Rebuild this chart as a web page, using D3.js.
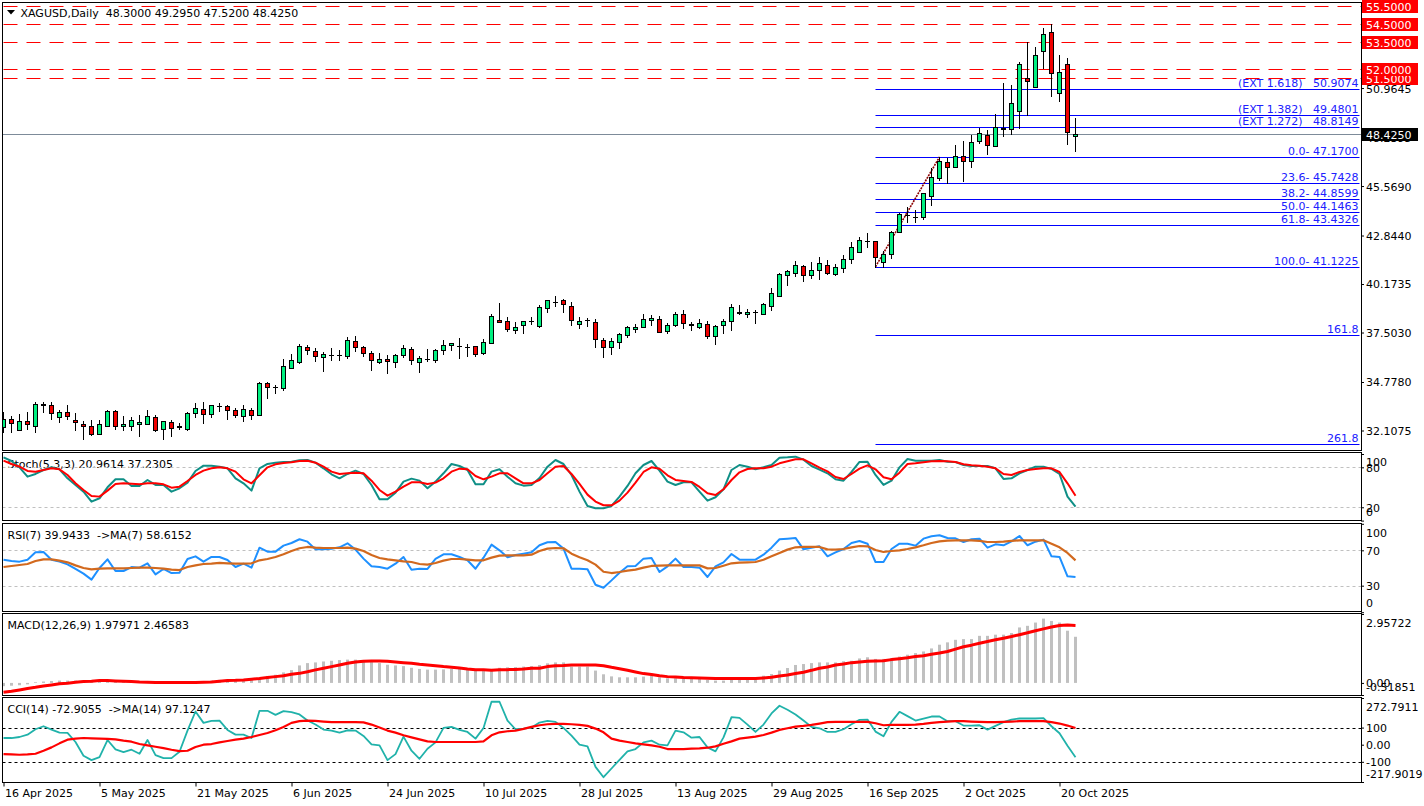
<!DOCTYPE html>
<html><head><meta charset="utf-8">
<script src="https://cdn.jsdelivr.net/npm/d3@7"></script>
<style>
html,body{margin:0;padding:0;background:#fff;overflow:hidden}
svg{display:block}
text{font-family:"DejaVu Sans",sans-serif;font-size:11px;white-space:pre}
</style></head><body>
<svg id="chart" width="1424" height="806"></svg>
<script>
// ---------------- DATA ----------------
const headerText = "XAGUSD,Daily  48.3000 49.2950 47.5200 48.4250";
const dates = [
"2025-04-16","2025-04-17","2025-04-21","2025-04-22","2025-04-23","2025-04-24","2025-04-25","2025-04-28","2025-04-29","2025-04-30",
"2025-05-01","2025-05-02","2025-05-05","2025-05-06","2025-05-07","2025-05-08","2025-05-09","2025-05-12","2025-05-13","2025-05-14",
"2025-05-15","2025-05-16","2025-05-19","2025-05-20","2025-05-21","2025-05-22","2025-05-23","2025-05-26","2025-05-27","2025-05-28",
"2025-05-29","2025-05-30","2025-06-02","2025-06-03","2025-06-04","2025-06-05","2025-06-06","2025-06-09","2025-06-10","2025-06-11",
"2025-06-12","2025-06-13","2025-06-16","2025-06-17","2025-06-18","2025-06-19","2025-06-20","2025-06-23","2025-06-24","2025-06-25",
"2025-06-26","2025-06-27","2025-06-30","2025-07-01","2025-07-02","2025-07-03","2025-07-04","2025-07-07","2025-07-08","2025-07-09",
"2025-07-10","2025-07-11","2025-07-14","2025-07-15","2025-07-16","2025-07-17","2025-07-18","2025-07-21","2025-07-22","2025-07-23",
"2025-07-24","2025-07-25","2025-07-28","2025-07-29","2025-07-30","2025-07-31","2025-08-01","2025-08-04","2025-08-05","2025-08-06",
"2025-08-07","2025-08-08","2025-08-11","2025-08-12","2025-08-13","2025-08-14","2025-08-15","2025-08-18","2025-08-19","2025-08-20",
"2025-08-21","2025-08-22","2025-08-25","2025-08-26","2025-08-27","2025-08-28","2025-08-29","2025-09-01","2025-09-02","2025-09-03",
"2025-09-04","2025-09-05","2025-09-08","2025-09-09","2025-09-10","2025-09-11","2025-09-12","2025-09-15","2025-09-16","2025-09-17",
"2025-09-18","2025-09-19","2025-09-22","2025-09-23","2025-09-24","2025-09-25","2025-09-26","2025-09-29","2025-09-30","2025-10-01",
"2025-10-02","2025-10-03","2025-10-06","2025-10-07","2025-10-08","2025-10-09","2025-10-10","2025-10-13","2025-10-14","2025-10-15",
"2025-10-16","2025-10-17","2025-10-20","2025-10-21","2025-10-22"];

const open = [
32.29,32.73,32.12,32.63,32.37,33.57,33.50,32.84,33.13,32.69,
32.45,32.34,31.90,32.37,33.20,32.34,32.37,32.45,32.45,32.84,
32.18,32.56,32.32,32.21,33.06,33.28,33.00,33.46,33.44,33.22,
32.89,33.22,32.95,34.71,34.52,34.45,35.57,35.90,36.71,36.47,
36.14,36.27,36.27,36.20,37.02,36.69,36.36,35.87,36.03,35.87,
36.25,36.58,35.87,36.06,35.98,36.53,36.82,36.75,36.72,36.75,
36.36,36.95,38.18,38.12,37.66,37.90,38.16,37.86,38.84,39.20,
39.30,38.95,37.96,38.18,38.07,37.08,36.69,36.97,37.35,37.68,
37.79,38.18,38.23,37.57,37.90,38.51,37.94,37.83,37.96,37.30,
37.90,38.12,38.60,38.52,38.62,38.51,38.95,39.50,40.66,40.80,
41.17,40.66,40.93,41.22,40.74,41.07,41.54,41.96,42.54,42.53,
41.40,41.81,43.06,43.98,43.88,43.85,45.04,46.03,46.88,46.60,
47.24,46.95,48.05,48.38,47.78,48.73,48.70,49.70,51.50,51.01,
52.99,54.04,50.68,52.27,48.30];
const high = [
33.14,32.91,33.02,33.13,33.68,33.68,33.68,33.24,33.51,33.06,
32.63,32.69,32.69,33.24,33.24,32.91,32.84,32.95,33.24,32.95,
32.63,32.69,32.51,33.13,33.61,33.68,33.50,33.61,33.51,33.37,
33.51,33.37,34.80,34.80,34.62,36.05,36.32,36.87,36.82,36.64,
36.43,36.64,36.54,37.26,37.31,36.76,36.50,36.38,36.27,36.32,
36.82,36.69,36.20,36.58,36.58,37.09,36.93,37.19,36.86,36.78,
37.13,38.52,39.13,38.34,38.07,38.12,38.38,39.00,39.30,39.51,
39.33,39.19,38.34,38.30,38.23,37.22,37.19,37.48,37.85,37.96,
38.52,38.45,38.41,38.01,38.64,38.73,38.07,38.23,38.12,37.90,
38.23,39.07,39.02,38.78,38.73,39.11,39.94,40.80,40.95,41.44,
41.22,41.39,41.66,41.48,41.26,41.77,42.47,42.77,42.97,42.53,
41.99,43.09,44.07,44.43,44.25,45.17,46.58,47.17,47.13,47.83,
48.05,48.38,48.75,48.66,49.54,51.23,51.13,52.42,53.52,53.21,
54.26,54.49,52.79,52.60,49.295];
const low = [
32.03,32.04,32.11,32.21,32.04,33.14,32.73,32.59,32.73,32.14,
31.63,31.86,31.90,32.37,32.21,32.14,32.14,31.82,32.45,32.10,
31.63,31.82,32.18,32.14,32.87,32.54,32.87,33.18,32.73,32.87,
32.65,32.73,32.95,33.92,34.16,34.34,35.57,35.84,36.31,35.95,
35.40,35.98,35.99,36.10,36.49,36.20,35.46,35.81,35.26,35.62,
36.17,35.76,35.35,35.92,35.87,36.31,36.54,36.12,36.23,36.23,
36.31,36.91,38.07,37.57,37.46,37.50,37.96,37.83,38.65,38.97,
38.65,37.94,37.77,37.88,36.72,36.17,36.31,36.64,37.28,37.55,
37.79,37.92,37.52,37.48,37.85,37.77,37.64,37.77,37.22,36.89,
37.50,37.66,38.51,38.34,38.05,38.51,38.73,39.50,40.10,40.60,
40.36,40.52,40.47,40.74,40.69,40.84,41.35,41.96,42.23,41.1225,
41.13,41.62,43.02,43.61,43.61,43.74,44.53,45.90,45.75,46.60,
45.86,46.64,47.92,47.32,47.78,48.34,48.44,48.75,49.48,51.01,
52.05,50.55,50.27,47.87,47.52];
const close = [
32.73,32.51,32.63,32.45,33.55,33.50,33.06,33.13,32.89,32.56,
32.37,31.93,32.45,33.20,32.37,32.45,32.69,32.56,32.91,32.15,
32.63,32.23,32.33,33.06,33.33,33.00,33.50,33.47,33.22,32.95,
33.28,32.95,34.74,34.49,34.53,35.66,35.98,36.76,36.53,36.21,
36.31,36.28,36.26,37.08,36.71,36.36,35.98,36.03,35.92,36.27,
36.64,35.98,36.09,36.07,36.53,36.82,36.92,36.76,36.71,36.34,
36.97,38.40,38.07,37.68,37.83,38.12,38.15,38.89,39.28,39.21,
39.06,38.18,38.14,38.17,37.13,36.69,37.02,37.41,37.79,37.81,
38.23,38.30,37.55,37.90,38.51,38.01,37.95,38.01,37.31,37.85,
38.14,38.89,38.61,38.63,38.61,39.07,39.68,40.74,40.89,41.22,
40.66,40.93,41.32,40.80,41.13,41.54,42.20,42.62,42.53,41.65,
41.81,43.02,44.01,43.99,43.89,45.17,46.05,46.95,46.64,47.24,
46.95,47.98,48.48,47.83,48.84,48.74,50.13,52.27,51.35,52.77,
53.93,51.78,51.83,48.53,48.425];

const stochK = [
95,89.5,80,66,70,76,80,77,63.5,53.5,
43.5,28.5,33.5,50,62,62,52,52,61,53.5,
53.5,43.5,48.5,57,74.5,82.5,82.5,81,78.5,63.5,
56,45,78.5,85,87,88,88.5,90.5,91,87,
78.5,69.5,63.5,70,75,70,53.5,32,32,42,
58.5,63,60,48.5,58.5,71,85,82,76,54.5,
54.5,73.5,77,66,56,52.5,53.5,64,81,91,
85,68.5,43.5,22,18.5,18.5,22,36,52,71,
83.5,89.5,75,58.5,53.5,57.5,57.5,43.5,30,35,
47,76,83.5,81,77,80,83.5,94.5,95,96,
91.5,82,76.5,71,62,60,73,88,88.5,68.5,
53.5,60,80,92.5,90,90,90,91,88.5,88,
83.5,82,82,82,78.5,62.5,63.5,71,76,81,
81,77.5,70,36,20.9614];
const stochD = [
90,85,81,74.5,73.5,76,78.5,77,68.5,56,
46,37,36,45,55,56,55.5,54.5,56,56,
54.5,49.5,51,59.5,68.5,75,78.5,80,78.5,73.5,
62,56,68,80,84.5,86.5,87.5,89.5,90,87,
81,73.5,70,71,72,71,60,46,37.5,43.5,
51,57.5,57.5,55,57,63.5,73.5,78,77,67,
62,66,71,71,63.5,56,56,61,71,81,
82,70,55,39,28.5,23,23,30,42,57,
73,80,78,68,61,59.5,58,50.5,41,38.5,
47,61,72.5,77.5,78.5,78.5,81,86,89,92,
92,86,79.5,74,65.5,62.5,70,78,83,77,
65,62,72,85,86,87.5,89,89.5,89,88,
84.5,83,82.5,81,78.5,70,68.5,73,76,77.5,
78.5,78.5,73,56,37.2305];
const stochLevels = [80, 20];
const stochTicks = [100, 80, 20, 0];
const stochTickLabels = ["100","80","20","0"];

const rsi = [
59.4,57.9,57.2,59.4,67.7,68.1,59.4,57.2,54.1,48.9,
43.6,36.8,50.0,59.8,46.6,46.6,51.1,50.4,55.3,42.8,
48.9,44.3,44.7,60.2,63.2,57.2,62.5,62.5,59.1,51.1,
54.9,50.4,73.0,68.5,68.5,75.3,78.3,82.5,79.8,71.1,
71.1,71.9,73.4,77.9,70.8,60.6,51.9,51.1,49.2,54.9,
62.5,48.1,49.2,48.9,60.2,65.5,65.5,62.5,58.7,49.2,
61.7,76.4,70.0,62.1,64.7,66.2,67.7,75.7,79.1,79.4,
71.9,49.2,49.2,48.5,31.1,27.7,36.0,44.7,51.9,52.3,
60.6,61.3,45.5,51.9,60.6,51.1,51.1,50.4,39.8,51.9,
56.4,65.8,59.4,59.4,59.4,65.1,73.0,82.5,83.2,84.0,
71.1,73.0,74.5,63.2,67.7,71.5,78.3,80.6,77.5,56.8,
56.8,71.5,77.5,77.5,75.3,83.2,85.9,87.0,84.0,83.6,
79.4,82.5,83.2,73.0,76.8,75.7,80.2,86.2,75.7,79.8,
82.1,63.2,62.5,40.6,39.9433];
const rsiMA = [
51.1,52.3,53.4,54.5,57.9,59.8,59.8,58.3,56.4,53.0,
50.0,48.5,49.2,49.6,49.6,49.6,50.0,50.4,50.4,50.0,
49.2,48.1,47.7,51.1,53.0,54.5,54.9,55.7,55.3,54.9,
54.9,55.3,58.7,60.2,62.5,65.5,69.2,72.3,73.8,73.0,
72.6,72.6,72.6,73.0,71.9,69.2,64.7,61.3,59.8,58.7,
57.5,56.8,54.5,53.8,55.7,58.3,60.2,60.2,59.4,58.7,
58.7,61.7,64.0,64.3,64.3,64.3,65.1,69.2,71.9,72.6,
72.3,66.2,62.1,58.7,53.8,45.8,44.3,45.5,47.0,48.1,
50.4,52.3,52.6,53.0,53.0,53.0,53.0,53.0,49.6,50.0,
52.6,55.3,56.0,56.4,56.8,59.4,63.2,67.0,70.8,73.4,
73.8,73.8,73.8,71.1,70.8,71.5,73.4,74.9,74.5,70.4,
68.1,69.2,70.0,71.5,73.4,75.7,78.3,80.2,80.9,81.3,
81.3,81.3,80.6,79.4,79.4,79.8,80.6,81.3,81.3,81.3,
81.3,77.5,73.4,67.0,58.6152];
const rsiLevels = [70, 30];
const rsiTicks = [100, 70, 30, 0];
const rsiTickLabels = ["100","70","30","0"];

const macdMain = [
-0.14,-0.12,-0.10,-0.06,0.03,0.06,0.08,0.10,0.10,0.10,
0.08,0.06,0.05,0.06,0.05,0.04,0.04,0.03,0.03,0.02,
0.02,0.01,0.00,0.02,0.05,0.07,0.10,0.13,0.12,0.11,
0.12,0.12,0.20,0.30,0.35,0.45,0.55,0.75,0.85,0.88,
0.92,0.95,0.98,1.00,1.00,0.98,0.90,0.85,0.78,0.75,
0.72,0.65,0.60,0.57,0.57,0.58,0.60,0.60,0.60,0.55,
0.55,0.60,0.65,0.67,0.68,0.70,0.72,0.77,0.84,0.88,
0.88,0.70,0.70,0.70,0.53,0.37,0.28,0.24,0.24,0.24,
0.27,0.31,0.24,0.20,0.20,0.17,0.17,0.17,0.13,0.10,
0.10,0.13,0.13,0.17,0.24,0.31,0.38,0.53,0.64,0.77,
0.81,0.85,0.88,0.88,0.88,0.93,0.95,1.05,1.10,1.03,
1.03,1.07,1.13,1.21,1.28,1.35,1.48,1.64,1.74,1.85,
1.88,1.88,2.02,2.02,2.07,2.07,2.14,2.38,2.45,2.59,
2.76,2.66,2.59,2.24,1.97971];
const macdSignal = [
-0.40,-0.36,-0.30,-0.24,-0.19,-0.13,-0.085,-0.04,-0.015,0.03,
0.06,0.07,0.10,0.10,0.085,0.07,0.06,0.04,0.03,0.02,
0.015,0.015,0.015,0.015,0.015,0.03,0.04,0.07,0.10,0.11,
0.13,0.16,0.19,0.23,0.27,0.31,0.37,0.41,0.48,0.56,
0.63,0.70,0.77,0.84,0.90,0.93,0.94,0.94,0.93,0.90,
0.87,0.84,0.80,0.77,0.74,0.70,0.67,0.64,0.60,0.57,
0.56,0.54,0.56,0.57,0.58,0.60,0.63,0.63,0.70,0.74,
0.75,0.77,0.77,0.77,0.77,0.74,0.67,0.61,0.54,0.47,
0.40,0.36,0.31,0.27,0.25,0.23,0.22,0.21,0.20,0.185,
0.185,0.185,0.185,0.185,0.185,0.21,0.24,0.30,0.34,0.40,
0.46,0.54,0.63,0.68,0.77,0.81,0.87,0.90,0.93,0.94,
0.95,1.00,1.04,1.08,1.13,1.17,1.23,1.28,1.35,1.45,
1.55,1.62,1.70,1.78,1.85,1.92,1.99,2.07,2.15,2.24,
2.32,2.40,2.46,2.48,2.46583];
const macdTicks = [2.95722, 0, -0.51851];
const macdTickLabels = ["2.95722","0.00","-0.51851"];

const cci = [
39.2,39,45,58.8,90.2,107.8,88.2,70.6,68.6,15.7,
-64.7,-90.2,-72.6,27.4,-27.5,-43.2,-29.4,-53,27.4,-60.8,
-78.5,-78.5,-41.2,82.4,194,127.5,139.2,141,86.3,58.8,
58.8,39.2,198,198,174.5,196,190,176.5,141,117.6,
88.2,82.4,70.6,84.3,82.4,51,2,-4,-90.2,-55,
47,-35.3,-82.4,-23.5,13.7,98,104,86.3,74.5,35.3,
98,251,251,141,90.2,94,100,129.4,139,133.3,
98,53,0,-9.8,-129.4,-190,-139,-88.3,-39.2,-25.5,
13.7,23.5,0,-3.9,82.4,72.5,41.2,45,-15.7,-39.2,
43.1,160.8,157,117.6,74.5,117.6,182.4,227.5,204,176.5,
141.2,104,96,74.5,74.5,90.2,119.6,145,147,76.5,
49,133.3,192,166.7,141,153,164.7,164.7,137.3,137.3,
111.8,111.8,113.7,88.2,109.8,131.4,147,153,153,153,
155,107.8,66.7,-5.9,-72.9055];
const cciMA = [
-54.9,-56.9,-58.8,-56.9,-53,-35.3,-15.7,7.8,29.4,35.3,
39.2,37.3,35.3,34.3,31.4,23.5,17.6,3.9,-3.9,-11.8,
-19.6,-29.4,-37.3,-35.3,-13.7,0,3.9,13.7,21.6,29.4,
35.3,45,56.9,68.6,84.3,104,127.5,137.3,141,139.2,
135.3,131.4,131.4,131.4,131.4,130.4,117.6,100,82.4,70.6,
54.9,43.1,31.4,19.6,15.7,15.7,15.7,15.7,15.7,15.7,
19.6,54.9,72.5,78.4,82.4,92.2,104,113.7,119.6,121.6,
121.6,119.6,115.7,109.8,94.1,72.5,35.3,23.5,15.7,7.8,
2,-3.9,-11.8,-25.5,-25.5,-25.5,-23.5,-21.6,-17.6,-9.8,
5.9,19.6,35.3,41.2,47,56.9,70.6,86.3,96.1,105.9,
109.8,115.7,123.5,131.4,133.3,133.3,133.3,133.3,133.3,125.5,
113.7,115.7,115.7,115.7,117.6,121.6,127.5,131.4,135.3,137.3,
137.3,135.3,133.3,131.4,131.4,133.3,135.3,137.3,137.3,137.3,
137.3,131.4,123.5,111.8,97.1247];
const cciLevels = [100, -100];
const cciTicks = [272.7911, 100, 0, -100, -217.9019];
const cciTickLabels = ["272.7911","100","0.00","-100","-217.9019"];

const priceTicks = [32.1075, 34.7780, 37.5030, 40.1735, 42.8440, 45.5690, 48.2395, 50.9645, 53.6350];
const redLevels = [51.5, 52.0, 53.5, 54.5, 55.5];
const lastPrice = 48.425;

const fibStart = "2025-09-17", fibEnd = "2025-09-29";
const fibLow = 41.1225, fibHigh = 47.17;
const fibPrices = [31.3380, 37.3852, 41.1225, 43.4326, 44.1463, 44.8599, 45.7428, 47.1700, 48.8149, 49.4801, 50.9074];
const fibLabels = ["261.8","161.8","100.0- 41.1225","61.8- 43.4326","50.0- 44.1463","38.2- 44.8599","23.6- 45.7428","0.0- 47.1700","(EXT 1.272)   48.8149","(EXT 1.382)   49.4801","(EXT 1.618)   50.9074"];

const xTickDates = ["2025-04-16","2025-05-05","2025-05-21","2025-06-06","2025-06-24","2025-07-10","2025-07-28","2025-08-13","2025-08-29","2025-09-16","2025-10-02","2025-10-20"];

const titles = {
  stoch: "Stoch(5,3,3) 20.9614 37.2305",
  rsi: "RSI(7) 39.9433  ->MA(7) 58.6152",
  macd: "MACD(12,26,9) 1.97971 2.46583",
  cci: "CCI(14) -72.9055  ->MA(14) 97.1247"
};

// ---------------- LAYOUT ----------------
const BULL = "#00f080", BEAR = "#f00000";
const LEFT = 2.5, RIGHT = 1361.5;
const P = {
  main:  {top:2.5,   bottom:450.5, range:[450,2],     domain:[31.034,55.703]},
  stoch: {top:452.5, bottom:520.5, range:[520.6,454], domain:[0,100]},
  rsi:   {top:523.5, bottom:611.5, range:[612.2,523.8], domain:[0,100]},
  macd:  {top:613.5, bottom:695.5, range:[695,614],   domain:[-0.51851,2.95722]},
  cci:   {top:697.5, bottom:782.5, range:[782,698],   domain:[-217.9019,272.7911]}
};
for (const k in P) P[k].y = d3.scaleLinear().domain(P[k].domain).range(P[k].range);

const svg = d3.select("#chart");
const n = dates.length;
const idx = d3.range(n);
const x = d3.scaleLinear().domain([0, n - 1]).range([3.5, 1075.5]);
const parse = d3.timeParse("%Y-%m-%d");
const fmtDate = d3.timeFormat("%-d %b %Y");

const defs = svg.append("defs");
for (const k in P) {
  defs.append("clipPath").attr("id", "clip-" + k).append("rect")
    .attr("x", LEFT + 0.5).attr("y", P[k].top + 0.5)
    .attr("width", RIGHT - LEFT - 1).attr("height", P[k].bottom - P[k].top - 1);
}

svg.append("rect").attr("width", 1424).attr("height", 806).attr("fill", "#fff");

// panel frames
for (const k in P) {
  svg.append("rect").attr("x", LEFT).attr("y", P[k].top)
    .attr("width", RIGHT - LEFT).attr("height", P[k].bottom - P[k].top)
    .attr("fill", "none").attr("stroke", "#000").attr("stroke-width", 1);
}

// ---------------- MAIN PANEL ----------------
const yM = P.main.y;
const gM = svg.append("g").attr("clip-path", "url(#clip-main)");

// header
svg.append("path").attr("d", "M7,10 L15,10 L11,14.5 Z").attr("fill", "#000");
svg.append("text").attr("x", 20.5).attr("y", 17).attr("fill", "#000").text(headerText);

// red dashed levels
gM.selectAll("line.red").data(redLevels).join("line")
  .attr("x1", LEFT).attr("x2", RIGHT)
  .attr("y1", d => Math.round(yM(d)) + 0.5).attr("y2", d => Math.round(yM(d)) + 0.5)
  .attr("stroke", "#ff0000").attr("stroke-width", 1).attr("stroke-dasharray", "14,9")
  .attr("stroke-dashoffset", -1);

// bid line
gM.append("line").attr("x1", LEFT).attr("x2", RIGHT)
  .attr("y1", Math.round(yM(lastPrice)) + 0.5).attr("y2", Math.round(yM(lastPrice)) + 0.5)
  .attr("stroke", "#7d8b99").attr("stroke-width", 1);

// fibonacci
const iFs = dates.indexOf(fibStart), iFe = dates.indexOf(fibEnd);
gM.selectAll("line.fib").data(fibPrices).join("line")
  .attr("x1", x(iFs)).attr("x2", RIGHT - 2)
  .attr("y1", d => Math.round(yM(d)) + 0.5).attr("y2", d => Math.round(yM(d)) + 0.5)
  .attr("stroke", "#0000ff").attr("stroke-width", 1);
gM.selectAll("text.fib").data(fibPrices).join("text")
  .attr("x", RIGHT - 3).attr("y", d => Math.round(yM(d)) - 2)
  .attr("text-anchor", "end").attr("fill", "#2020ff")
  .text((d, i) => fibLabels[i]);
gM.append("line")
  .attr("x1", x(iFs)).attr("y1", yM(fibLow)).attr("x2", x(iFe)).attr("y2", yM(fibHigh))
  .attr("stroke", "#8b0000").attr("stroke-width", 1.6).attr("stroke-dasharray", "2,1");

// candles
gM.selectAll("line.wick").data(idx).join("line")
  .attr("x1", i => x(i)).attr("x2", i => x(i))
  .attr("y1", i => Math.round(yM(high[i]))).attr("y2", i => Math.round(yM(low[i])) + 1)
  .attr("stroke", "#000").attr("stroke-width", 1);
const bodyTop = i => Math.round(yM(Math.max(open[i], close[i]))) + 0.5;
const bodyBot = i => Math.round(yM(Math.min(open[i], close[i]))) + 0.5;
gM.selectAll("rect.body").data(idx.filter(i => bodyBot(i) - bodyTop(i) >= 1)).join("rect")
  .attr("x", i => x(i) - 2).attr("width", 4)
  .attr("y", bodyTop).attr("height", i => bodyBot(i) - bodyTop(i))
  .attr("fill", i => close[i] > open[i] ? BULL : BEAR)
  .attr("stroke", "#000").attr("stroke-width", 1);
gM.selectAll("line.doji").data(idx.filter(i => bodyBot(i) - bodyTop(i) < 1)).join("line")
  .attr("x1", i => x(i) - 2.5).attr("x2", i => x(i) + 2.5)
  .attr("y1", bodyTop).attr("y2", bodyTop)
  .attr("stroke", "#000").attr("stroke-width", 1);

// ---------------- SUB PANELS ----------------
function title(k) {
  svg.append("text").attr("x", 7.5).attr("y", P[k].top + 15).attr("fill", "#000").text(titles[k]);
}
function levels(k, vals, color) {
  svg.append("g").attr("clip-path", "url(#clip-" + k + ")")
    .selectAll("line").data(vals).join("line")
    .attr("x1", LEFT).attr("x2", RIGHT)
    .attr("y1", d => Math.round(P[k].y(d)) + 0.5).attr("y2", d => Math.round(P[k].y(d)) + 0.5)
    .attr("stroke", color).attr("stroke-width", 1).attr("stroke-dasharray", "3,3");
}
function series(k, vals, color, w) {
  const line = d3.line().x((d, i) => x(i)).y(d => P[k].y(d));
  svg.append("g").attr("clip-path", "url(#clip-" + k + ")")
    .append("path").datum(vals).attr("d", line)
    .attr("fill", "none").attr("stroke", color).attr("stroke-width", w)
    .attr("stroke-linejoin", "round");
}

title("stoch"); levels("stoch", stochLevels, "#c0c0c0");
series("stoch", stochK, "#0f8f86", 2);
series("stoch", stochD, "#ff0000", 2);

title("rsi"); levels("rsi", rsiLevels, "#c0c0c0");
series("rsi", rsi, "#1e90ff", 2);
series("rsi", rsiMA, "#d2691e", 2.2);

title("macd");
const yMa = P.macd.y;
svg.append("g").attr("clip-path", "url(#clip-macd)")
  .selectAll("rect").data(idx).join("rect")
  .attr("x", i => x(i) - 1.5).attr("width", 3)
  .attr("y", i => Math.min(yMa(0), yMa(macdMain[i])))
  .attr("height", i => Math.abs(yMa(macdMain[i]) - yMa(0)))
  .attr("fill", "#c0c0c0");
series("macd", macdSignal, "#ff0000", 3);

title("cci"); levels("cci", cciLevels, "#000");
series("cci", cci, "#20b2aa", 1.8);
series("cci", cciMA, "#ff0000", 2.2);

// ---------------- AXES ----------------
function rightAxis(k, vals, labels) {
  const sc = P[k].y;
  const ax = d3.axisRight(sc).tickValues(vals)
    .tickFormat((d, i) => labels ? labels[i] : d3.format(".4f")(d))
    .tickSize(3).tickPadding(2);
  const a = svg.append("g").attr("transform", `translate(${RIGHT - 0.5},0)`).call(ax);
  a.attr("font-family", "DejaVu Sans").attr("font-size", 11);
  a.select(".domain").remove();
  a.selectAll(".tick text").attr("fill", "#000").attr("dy", "0.36em")
    .attr("y", d => {
      const yy = sc(d);
      const c = Math.min(Math.max(yy, P[k].top + 9), P[k].bottom - 8.5);
      return c - yy;
    });
  a.selectAll(".tick line").attr("stroke", "#000");
}
rightAxis("main", priceTicks, null);
rightAxis("stoch", stochTicks, stochTickLabels);
rightAxis("rsi", rsiTicks, rsiTickLabels);
rightAxis("macd", macdTicks, macdTickLabels);
rightAxis("cci", cciTicks, cciTickLabels);

// level boxes
function box(v, fill) {
  const yy = yM(v);
  svg.append("rect").attr("x", RIGHT + 0.5).attr("y", Math.round(yy) - 6)
    .attr("width", 56).attr("height", 13).attr("fill", fill);
  svg.append("text").attr("x", RIGHT + 4.5).attr("y", Math.round(yy) + 4.5)
    .attr("fill", "#fff").text(d3.format(".4f")(v));
}
redLevels.forEach(v => box(v, "#ff0000"));
box(lastPrice, "#000");

// x axis
const xa = d3.axisBottom(x)
  .tickValues(xTickDates.map(d => dates.indexOf(d)))
  .tickFormat(i => fmtDate(parse(dates[i])))
  .tickSize(4).tickPadding(0);
const gx = svg.append("g").attr("transform", `translate(0,${P.cci.bottom})`).call(xa);
gx.attr("font-family", "DejaVu Sans").attr("font-size", 11);
gx.select(".domain").remove();
gx.selectAll(".tick text").attr("text-anchor", "start").attr("x", 1).attr("y", 14.5).attr("dy", 0).attr("fill", "#000");
gx.selectAll(".tick line").attr("stroke", "#000");
</script>
</body></html>
